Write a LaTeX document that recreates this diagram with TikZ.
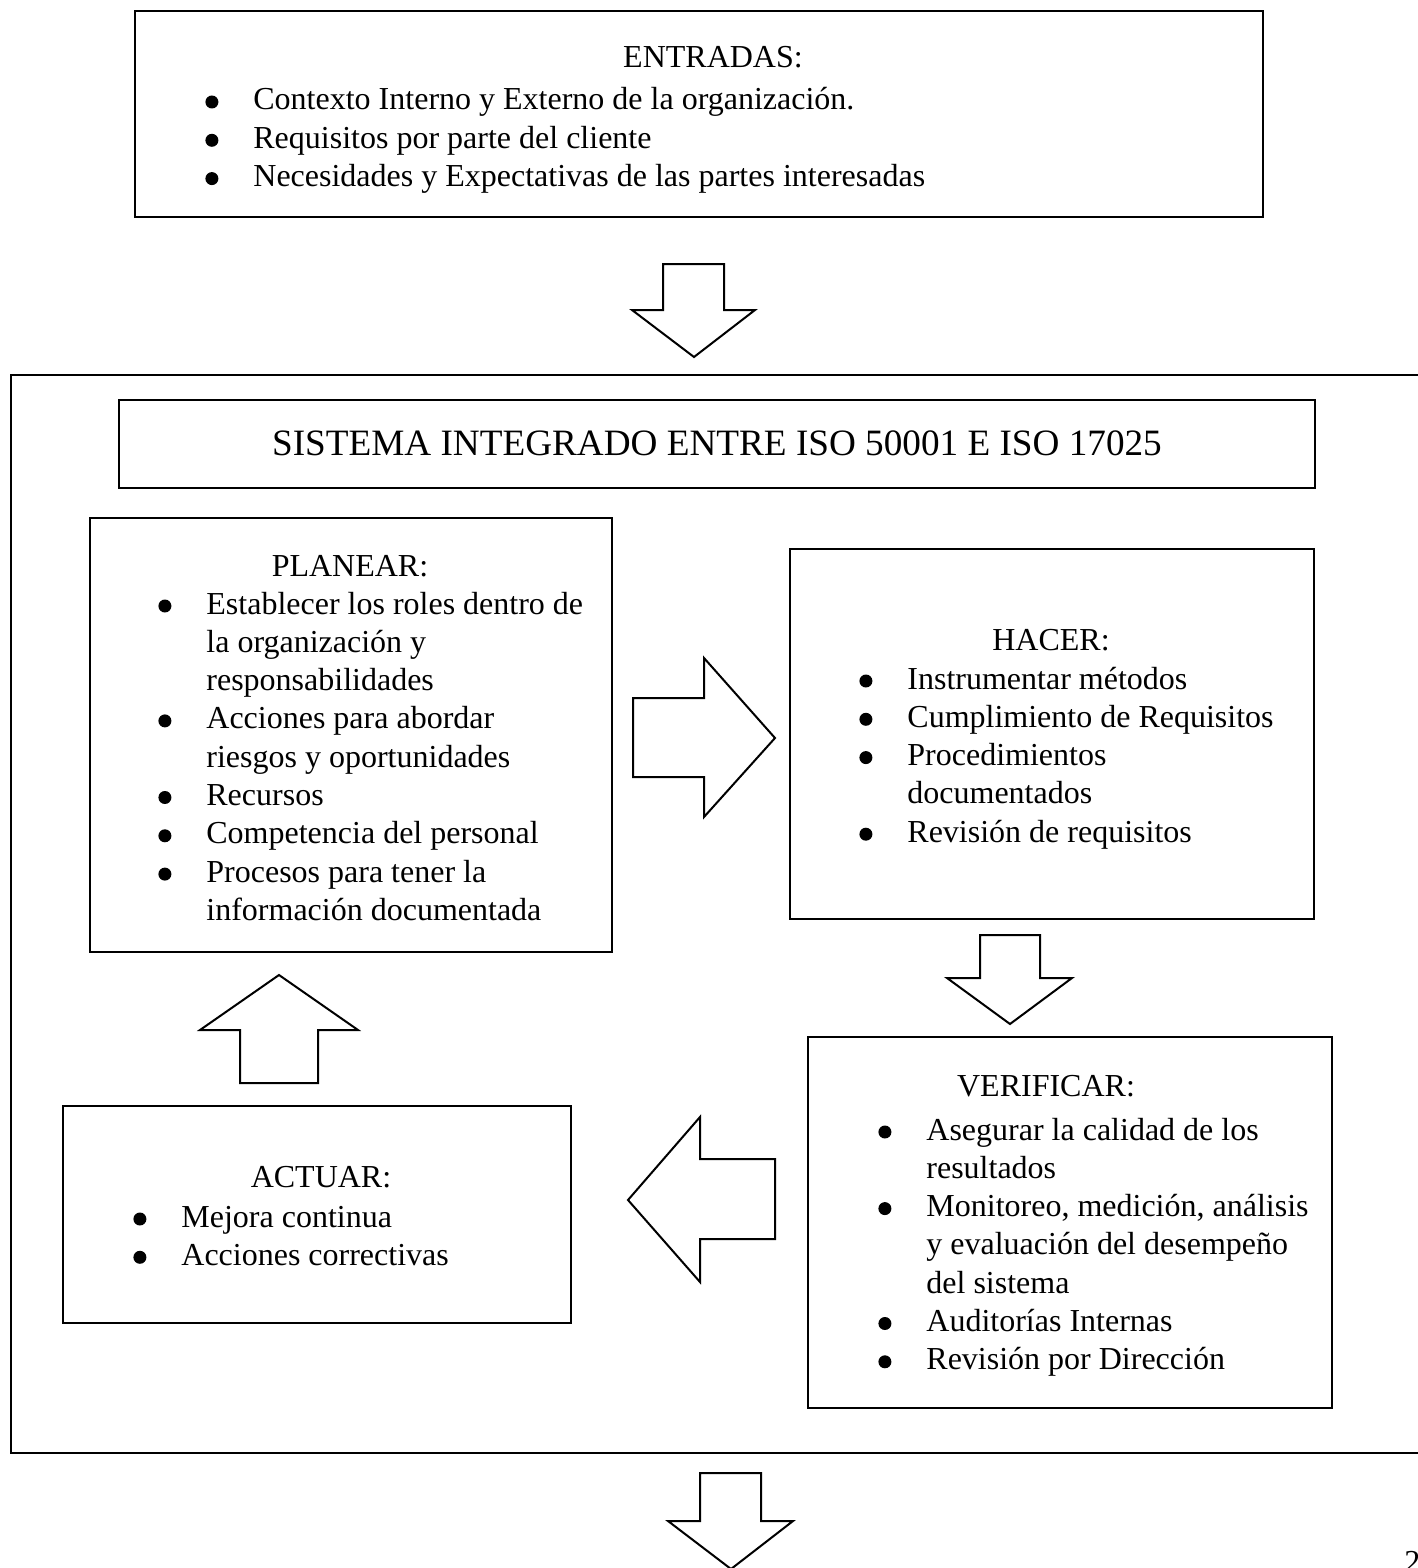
\documentclass[tikz,border=0pt]{standalone}
\usepackage{fontspec}
\setmainfont{Liberation Serif}
\usetikzlibrary{fit}
\newcommand{\bdot}{\tikz[baseline=-4pt]\fill (0,0) circle (3.25pt);}
\newcommand{\bul}{\llap{\makebox[0pt]{\bdot}\hspace{20.75pt}}}
\tikzset{
  box/.style={draw, line width=1pt, inner sep=0pt},
  frame/.style={draw, line width=1.3pt, inner sep=0pt},
  blockarrow/.style={draw, line width=1pt, line join=miter, fill=white},
  headtxt/.style={anchor=base, inner sep=0pt, font=\fontsize{16}{19.15}\selectfont},
  listtxt/.style={anchor=base west, inner sep=0pt, font=\fontsize{16}{19.15}\selectfont},
}
\begin{document}
\begin{tikzpicture}[x=0.5pt, y=-0.5pt]
\useasboundingbox (0,0) rectangle (1418,1568);
\clip (0,0) rectangle (1418,1568);

% ENTRADAS
\node[box, fit={(135,11) (1263,217)}] (entradas) {};
\node[headtxt] (h-entradas) at (713,68) {ENTRADAS:};
\node[listtxt] (l-entradas) at (253,110) {\begin{tabular}[t]{@{}l@{}}
\bul Contexto Interno y Externo de la organización.\\
\bul Requisitos por parte del cliente\\
\bul Necesidades y Expectativas de las partes interesadas
\end{tabular}};

% arrow 1
\draw[blockarrow] (663,264) -- (724,264) -- (724,310) -- (755,310) -- (694,357) -- (632,310) -- (663,310) -- cycle;

% frame
\node[frame, fit={(11,375) (1440,1453)}] (sistema) {};

% title
\node[box, fit={(119,400) (1315,488)}] (titulo) {};
\node[anchor=base, inner sep=0pt, font=\fontsize{18.6}{22}\selectfont] (t-titulo) at (717,455) {SISTEMA INTEGRADO ENTRE ISO 50001 E ISO 17025};

% PLANEAR
\node[box, fit={(90,518) (612,952)}] (planear) {};
\node[headtxt] (h-planear) at (350,576) {PLANEAR:};
\node[listtxt] (l-planear) at (206,614) {\begin{tabular}[t]{@{}l@{}}
\bul Establecer los roles dentro de\\
la organización y\\
responsabilidades\\
\bul Acciones para abordar\\
riesgos y oportunidades\\
\bul Recursos\\
\bul Competencia del personal\\
\bul Procesos para tener la\\
información documentada
\end{tabular}};

% arrow right
\draw[blockarrow] (633,698) -- (704,698) -- (704,658) -- (775,738) -- (704,817) -- (704,777) -- (633,777) -- cycle;

% HACER
\node[box, fit={(790,549) (1314,919)}] (hacer) {};
\node[headtxt] (h-hacer) at (1051,650) {HACER:};
\node[listtxt] (l-hacer) at (907,689) {\begin{tabular}[t]{@{}l@{}}
\bul Instrumentar métodos\\
\bul Cumplimiento de Requisitos\\
\bul Procedimientos\\
documentados\\
\bul Revisión de requisitos
\end{tabular}};

% arrow down 2
\draw[blockarrow] (980,935) -- (1040,935) -- (1040,978) -- (1072,978) -- (1010,1024) -- (947,978) -- (980,978) -- cycle;

% VERIFICAR
\node[box, fit={(808,1037) (1332,1408)}] (verificar) {};
\node[headtxt] (h-verificar) at (1046,1096) {VERIFICAR:};
\node[listtxt] (l-verificar) at (926,1140) {\begin{tabular}[t]{@{}l@{}}
\bul Asegurar la calidad de los\\
resultados\\
\bul Monitoreo, medición, análisis\\
y evaluación del desempeño\\
del sistema\\
\bul Auditorías Internas\\
\bul Revisión por Dirección
\end{tabular}};

% arrow left
\draw[blockarrow] (775,1159) -- (700,1159) -- (700,1117) -- (628,1200) -- (700,1282) -- (700,1239) -- (775,1239) -- cycle;

% ACTUAR
\node[box, fit={(63,1106) (571,1323)}] (actuar) {};
\node[headtxt] (h-actuar) at (321,1187) {ACTUAR:};
\node[listtxt] (l-actuar) at (181,1227) {\begin{tabular}[t]{@{}l@{}}
\bul Mejora continua\\
\bul Acciones correctivas
\end{tabular}};

% arrow up
\draw[blockarrow] (240,1083) -- (240,1030) -- (200,1030) -- (279,975) -- (358,1030) -- (318,1030) -- (318,1083) -- cycle;

% arrow bottom
\draw[blockarrow] (700,1473) -- (761,1473) -- (761,1521) -- (793,1521) -- (731,1569) -- (668,1521) -- (700,1521) -- cycle;

% page number
\node[anchor=base west, inner sep=0pt, font=\fontsize{16}{19.15}\selectfont] (pagenum) at (1404,1572) {2};
\end{tikzpicture}
\end{document}
